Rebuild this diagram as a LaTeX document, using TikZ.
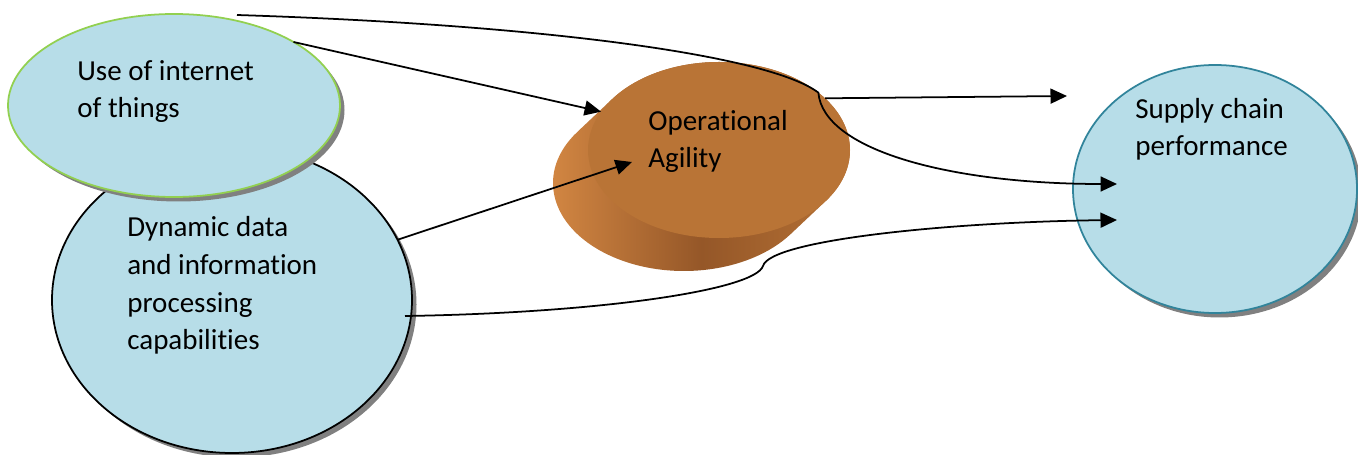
\documentclass[tikz,border=0pt]{standalone}
\usepackage{fontspec}
\setmainfont[Ligatures=NoCommon]{Carlito}
\usepackage{tikz}
\usetikzlibrary{shapes.geometric,shadows,arrows.meta}

\definecolor{blobfill}{HTML}{B7DDE8}
\definecolor{iotgreen}{HTML}{92D050}
\definecolor{scpteal}{HTML}{31849B}
\definecolor{shadowgray}{HTML}{808080}
\definecolor{diskTop}{HTML}{B97436}
\definecolor{diskLight}{HTML}{D88B45}
\definecolor{diskDark}{HTML}{955728}

\begin{document}
\begin{tikzpicture}[
  blob/.style={ellipse, fill=blobfill, line width=1pt, inner sep=0pt, outer sep=0pt,
    drop shadow={shadow xshift=0.09cm, shadow yshift=-0.09cm, fill=shadowgray, opacity=1}},
  txt/.style={align=left, inner sep=0pt, anchor=base west, font=\fontsize{16.5pt}{21.6pt}\selectfont},
  link/.style={-{Triangle[length=0.33cm,width=0.3cm]}, line width=1pt}]
\useasboundingbox (0cm,0cm) rectangle (27.16cm,-9.1cm);

\node[blob, draw=black, minimum width=7.2cm, minimum height=6.12cm] (dyn) at (4.64cm,-6cm) {};
\node[blob, draw=iotgreen, minimum width=6.64cm, minimum height=3.66cm] (iot) at (3.48cm,-2.11cm) {};
\node[blob, draw=scpteal, minimum width=5.68cm, minimum height=4.96cm] (scp) at (24.3cm,-3.78cm) {};

% disk: side first, then the top face
\shade[left color=diskLight, right color=diskTop, middle color=diskDark]
  (14.38cm,-3cm) ++(-35.47:2.62cm and 1.76cm)
  arc[start angle=-35.47, end angle=144.53, x radius=2.62cm, y radius=1.76cm]
  -- ++(-0.7cm,-0.66cm)
  arc[start angle=144.53, end angle=324.53, x radius=2.62cm, y radius=1.76cm] -- cycle;
\node[ellipse, fill=diskTop, inner sep=0pt, outer sep=0pt, minimum width=5.24cm, minimum height=3.52cm] (agility) at (14.38cm,-3cm) {};

\node[txt] (iottext) at (1.54cm,-2.36cm) {Use of internet\\of things};
\node[txt] (dyntext) at (2.54cm,-7cm) {Dynamic data\\and information\\processing\\capabilities};
\node[txt] (agtext) at (12.96cm,-3.36cm) {Operational\\Agility};
\node[txt] (scptext) at (22.7cm,-3.12cm) {Supply chain\\performance};

\coordinate (iotstart) at (4.74cm,-0.3cm);
\coordinate (agtip) at (12.64cm,-3.24cm);
\coordinate (scpgap) at (21.34cm,-1.92cm);
\coordinate (scptip1) at (22.34cm,-3.68cm);
\coordinate (scptip2) at (22.34cm,-4.4cm);
\coordinate (dynout) at (8.1cm,-6.32cm);
\coordinate (dynbend) at (15.26cm,-5.32cm);

\draw[link] (iotstart) .. controls +(6.26cm,-0.2cm) and +(-0.96cm,0.73cm) .. (agility.30)
  .. controls +(0.1cm,-1.15cm) and +(-3.34cm,0cm) .. (scptip1);
\draw[link] (iot.28) -- (agility.162);
\draw[link] (dyn.20) -- (agtip);
\draw[link] (agility.26) -- (scpgap);
\draw[link] (dynout) .. controls +(3.9cm,0.06cm) and +(-0.16cm,-0.48cm) .. (dynbend)
  .. controls +(0.14cm,0.52cm) and +(-3.34cm,-0.04cm) .. (scptip2);
\end{tikzpicture}
\end{document}
